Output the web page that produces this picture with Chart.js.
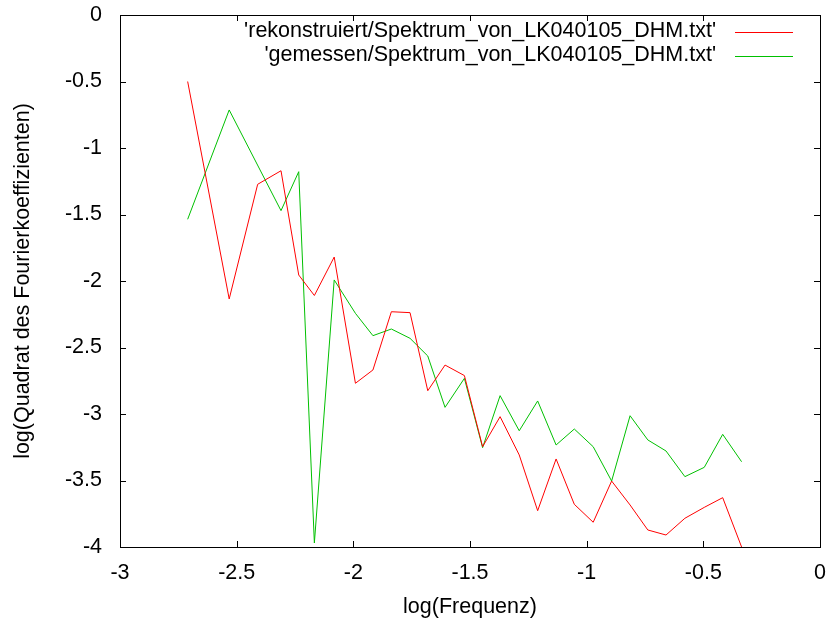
<!DOCTYPE html>
<html lang="de">
<head>
<meta charset="UTF-8">
<title>Spektrum LK040105 DHM</title>
<script src="https://cdn.jsdelivr.net/npm/chart.js"></script>
<style>
  html, body { margin: 0; padding: 0; background: #fff; }
  #wrap { width: 828px; height: 622px; }
</style>
</head>
<body>
<div id="wrap"><canvas id="spektrum" width="828" height="622"></canvas></div>
<script>
// log(Frequenz) values, shared by both series
const logFreq = [-2.71, -2.532, -2.41, -2.31, -2.234, -2.167, -2.082, -1.991, -1.916, -1.837,
                 -1.757, -1.681, -1.607, -1.524, -1.446, -1.371, -1.289, -1.21, -1.131, -1.053,
                 -0.972, -0.893, -0.814, -0.738, -0.66, -0.579, -0.496, -0.417, -0.336];

const rekonstruiert = [-0.50, -2.135, -1.273, -1.171, -1.955, -2.109, -1.820, -2.769, -2.669, -2.231,
                       -2.238, -2.825, -2.632, -2.711, -3.246, -3.020, -3.308, -3.727, -3.338, -3.679,
                       -3.814, -3.504, -3.684, -3.872, -3.910, -3.784, -3.702, -3.629, -4.0];

const gemessen = [-1.536, -0.714, null, -1.471, -1.178, -3.97, -1.992, -2.243, -2.411, -2.361,
                  -2.431, -2.564, -2.950, -2.732, -3.253, -2.862, -3.126, -2.902, -3.233, -3.113,
                  -3.246, -3.504, -3.013, -3.195, -3.278, -3.471, -3.401, -3.153, -3.359];

const seriesLabels = ["'rekonstruiert/Spektrum_von_LK040105_DHM.txt'", "'gemessen/Spektrum_von_LK040105_DHM.txt'"];
const seriesColors = ['#ff0000', '#00c000'];

const FONT = { family: '"Liberation Sans", Arial, sans-serif', size: 21.5 };

function toPoints(ys) {
    return logFreq.map((x, i) => ({ x: x, y: ys[i] }));
}

// frame, inward ticks on all four sides, and the gnuplot-style key
const gnuplotFrame = {
    id: 'gnuplotFrame',
    afterDatasetsDraw(chart) {
        const ctx = chart.ctx;
        const a = chart.chartArea;
        const xs = chart.scales.x, ys = chart.scales.y;
        const t = 6;
        ctx.save();
        ctx.strokeStyle = '#000';
        ctx.lineWidth = 1;
        ctx.beginPath();
        xs.ticks.forEach(tk => {
            const px = Math.round(xs.getPixelForValue(tk.value)) + 0.5;
            ctx.moveTo(px, a.bottom); ctx.lineTo(px, a.bottom - t);
            ctx.moveTo(px, a.top); ctx.lineTo(px, a.top + t);
        });
        ys.ticks.forEach(tk => {
            const py = Math.round(ys.getPixelForValue(tk.value)) + 0.5;
            ctx.moveTo(a.left, py); ctx.lineTo(a.left + t, py);
            ctx.moveTo(a.right, py); ctx.lineTo(a.right - t, py);
        });
        ctx.stroke();
        ctx.strokeRect(Math.round(a.left) + 0.5, Math.round(a.top) + 0.5,
                       Math.round(a.right - a.left), Math.round(a.bottom - a.top));

        // key
        ctx.font = FONT.size + 'px ' + FONT.family;
        ctx.textAlign = 'right';
        ctx.textBaseline = 'middle';
        chart.data.datasets.forEach((ds, i) => {
            const y = 31 + i * 24;
            ctx.fillStyle = '#000';
            ctx.fillText(ds.label, 716, y);
            ctx.strokeStyle = ds.borderColor;
            ctx.beginPath();
            ctx.moveTo(735, y + 1.5); ctx.lineTo(793, y + 1.5);
            ctx.stroke();
        });
        ctx.restore();
    }
};

function noOverhang(s) {
    s.paddingLeft = 0; s.paddingRight = 0; s.paddingTop = 0; s.paddingBottom = 0;
}

new Chart(document.getElementById('spektrum'), {
    type: 'line',
    data: {
        datasets: [
            { label: seriesLabels[0], data: toPoints(rekonstruiert), borderColor: seriesColors[0],
              borderWidth: 1, pointRadius: 0, tension: 0 },
            { label: seriesLabels[1], data: toPoints(gemessen), borderColor: seriesColors[1],
              borderWidth: 1, pointRadius: 0, tension: 0, spanGaps: true }
        ]
    },
    options: {
        responsive: false,
        animation: false,
        layout: { padding: { top: 15, right: 8, left: 0, bottom: 0 } },
        plugins: { legend: { display: false }, tooltip: { enabled: false } },
        scales: {
            x: {
                type: 'linear', min: -3, max: 0,
                grid: { display: false, drawTicks: false },
                border: { display: false },
                ticks: { stepSize: 0.5, padding: 13, color: '#000', font: FONT, maxRotation: 0,
                         callback: v => String(Math.round(v * 10) / 10) },
                title: { display: true, text: 'log(Frequenz)', color: '#000', font: FONT,
                         padding: { top: 0, bottom: 2 } },
                afterFit: s => { s.height = 75; noOverhang(s); }
            },
            y: {
                type: 'linear', min: -4, max: 0,
                grid: { display: false, drawTicks: false },
                border: { display: false },
                ticks: { stepSize: 0.5, padding: 18, color: '#000', font: FONT,
                         callback: v => String(Math.round(v * 10) / 10) },
                title: { display: true, text: 'log(Quadrat des Fourierkoeffizienten)', color: '#000', font: FONT,
                         padding: { top: 10, bottom: 0 } },
                afterFit: s => { s.width = 120; noOverhang(s); }
            }
        }
    },
    plugins: [gnuplotFrame]
});
</script>
</body>
</html>
